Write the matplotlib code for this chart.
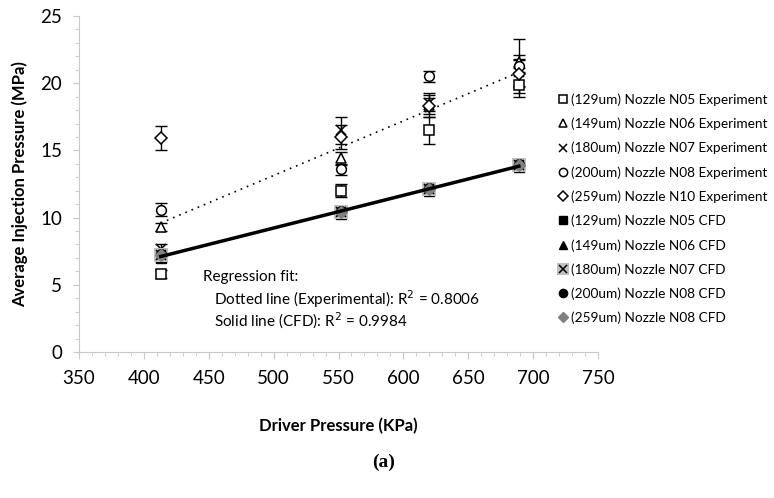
import matplotlib
matplotlib.use('Agg')
import matplotlib.pyplot as plt
from matplotlib.legend_handler import HandlerTuple
import numpy as np

plt.rcParams['font.family'] = ['Lato', 'DejaVu Sans']

driver = [413, 552, 620, 689]

# experimental injection pressure (MPa) and error
n05_exp = [5.8, 12.0, 16.5, 19.9]
n06_exp = [9.3, 14.4, 18.4, 21.6]
n07_exp = [7.7, 16.5, 18.5, 20.8]
n08_exp = [10.6, 13.6, 20.5, 21.3]
n10_exp = [15.9, 16.0, 18.3, 20.7]
n05_err = [0.3, 0.5, 1.0, 0.9]
n06_err = [0.3, 0.5, 0.5, 0.5]
n07_err = [0.3, 1.0, 0.8, 1.0]
n08_err = [0.5, 0.4, 0.4, 2.0]
n10_err = [0.9, 0.9, 0.8, 1.0]

# CFD injection pressure (MPa)
n05_cfd = [7.0, 10.3, 12.0, 13.8]
n06_cfd = [7.1, 10.4, 12.1, 13.9]
n07_cfd = [7.2, 10.4, 12.1, 13.9]
n08_cfd = [7.3, 10.5, 12.2, 14.0]
n10_cfd = [7.2, 10.4, 12.1, 13.9]

fig = plt.figure(figsize=(7.74, 4.98), dpi=100)
ax = fig.add_axes([79/774, 1-352/498, (598-79)/774, (352-16)/498])

exp_sets = [
    (n05_exp, n05_err, 's', 6.5, '(129um) Nozzle N05 Experiment'),
    (n06_exp, n06_err, '^', 7, '(149um) Nozzle N06 Experiment'),
    (n07_exp, n07_err, 'x', 7.5, '(180um) Nozzle N07 Experiment'),
    (n08_exp, n08_err, 'o', 7, '(200um) Nozzle N08 Experiment'),
    (n10_exp, n10_err, 'D', 6, '(259um) Nozzle N10 Experiment'),
]
handles = []
labels = []
for vals, err, m, ms, lab in exp_sets:
    ax.errorbar(driver, vals, yerr=err, fmt='none', ecolor='black',
                elinewidth=1, capsize=4, capthick=1, zorder=3)
    if m == 'x':
        h, = ax.plot(driver, vals, ls='none', marker=m, ms=ms, mew=1.1,
                     color='black', zorder=4)
    else:
        h, = ax.plot(driver, vals, ls='none', marker=m, ms=ms, mew=1.1,
                     mfc='white', mec='black', zorder=4)
    handles.append(h)
    labels.append(lab)

# CFD markers
h, = ax.plot(driver, n05_cfd, ls='none', marker='s', ms=6.5, color='black', zorder=5)
handles.append(h); labels.append('(129um) Nozzle N05 CFD')
h, = ax.plot(driver, n06_cfd, ls='none', marker='^', ms=7, color='black', zorder=5)
handles.append(h); labels.append('(149um) Nozzle N06 CFD')
hb, = ax.plot(driver, n07_cfd, ls='none', marker='s', ms=9.5, color='#bfbfbf', mew=0, zorder=5)
hx, = ax.plot(driver, n07_cfd, ls='none', marker='x', ms=7.5, mew=1.1, color='black', zorder=5)
handles.append((hb, hx)); labels.append('(180um) Nozzle N07 CFD')
h, = ax.plot(driver, n08_cfd, ls='none', marker='o', ms=7, color='black', zorder=6)
handles.append(h); labels.append('(200um) Nozzle N08 CFD')
h, = ax.plot(driver, n10_cfd, ls='none', marker='D', ms=6, color='#808080', zorder=7)
handles.append(h); labels.append('(259um) Nozzle N08 CFD')

# regression lines
xs = np.array([driver[0], driver[-1]])
exp_x = np.tile(driver, 5)
exp_y = np.concatenate([n05_exp, n06_exp, n07_exp, n08_exp, n10_exp])
k, b = np.polyfit(exp_x, exp_y, 1)
ax.plot(xs, k*xs + b, color='black', lw=1.2, ls=(0, (1, 3)), zorder=2)
cfd_y = np.concatenate([n05_cfd, n06_cfd, n07_cfd, n08_cfd, n10_cfd])
k, b = np.polyfit(exp_x, cfd_y, 1)
ax.plot(xs, k*xs + b, color='black', lw=2.5, zorder=8)

ax.set_xlim(350, 750)
ax.set_ylim(0, 25)
ax.set_xticks(np.arange(350, 751, 50))
ax.set_xticks(np.arange(350, 751, 10), minor=True)
ax.set_yticks(np.arange(0, 26, 5))
ax.set_yticks(np.arange(0, 26, 1), minor=True)
for s in ['top', 'right']:
    ax.spines[s].set_visible(False)
for s in ['left', 'bottom']:
    ax.spines[s].set_color('#c8c8c8')
ax.tick_params(which='major', length=5, color='#c8c8c8', labelsize=13.5, pad=8)
ax.tick_params(which='minor', length=3, color='#c8c8c8')
ax.tick_params(axis='y', which='major', length=4)

ax.set_xlabel('Driver Pressure (KPa)', fontsize=12, fontweight='bold', labelpad=22)
ax.set_ylabel('Average Injection Pressure (MPa)', fontsize=12, fontweight='bold', labelpad=9)

fig.text(203/774, 1-277/498, 'Regression fit:', fontsize=11, va='center')
fig.text(214/774, 1-299/498, 'Dotted line (Experimental): R$^2$ = 0.8006', fontsize=11, va='center')
fig.text(214/774, 1-321/498, 'Solid line (CFD): R$^2$ = 0.9984', fontsize=11, va='center')

fig.legend(handles, labels, loc='upper left', bbox_to_anchor=(553/774, 1-88/498),
           frameon=False, fontsize=9.8, handlelength=0.7, handletextpad=0.2,
           labelspacing=0.86, borderaxespad=0, markerscale=0.85,
           handler_map={tuple: HandlerTuple(ndivide=1, pad=0)})

fig.text(384/774, 1-462/498, '(a)', fontsize=14, fontweight='bold',
         family='Liberation Serif', ha='center', va='center')

fig.savefig('out.png', dpi=100)
